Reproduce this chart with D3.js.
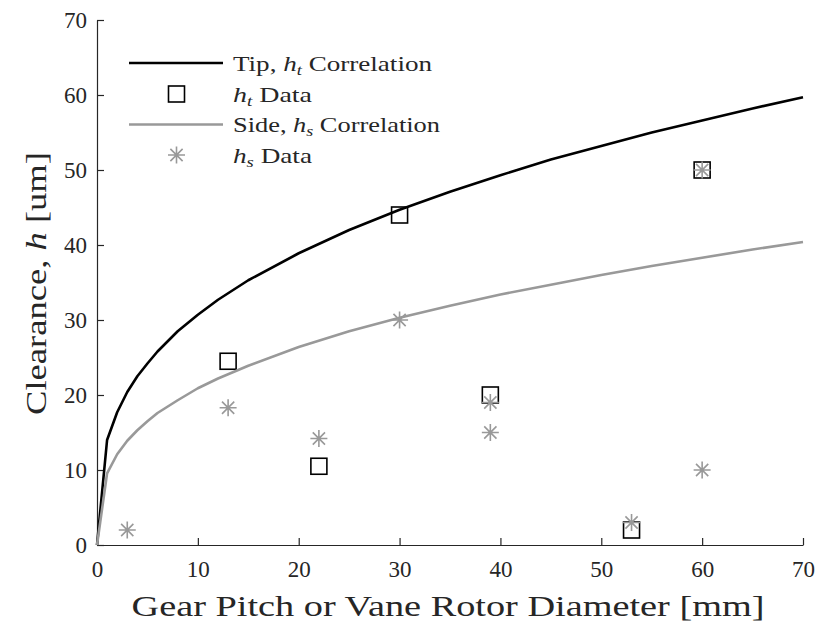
<!DOCTYPE html>
<html>
<head>
<meta charset="utf-8">
<script src="https://cdn.jsdelivr.net/npm/d3@7/dist/d3.min.js"></script>
<style>
  html, body { margin: 0; padding: 0; background: #fff; }
  svg { display: block; }
  text { font-family: "Liberation Serif", "Times New Roman", serif; fill: #262626; }
</style>
</head>
<body>
<svg id="chart" width="817" height="629"></svg>
<script>
// Correlation curves sampled along the pitch / diameter axis [mm]
const curveX    = [0, 1, 2, 3, 4, 5, 6, 8, 10, 12, 15, 20, 25, 30, 35, 40, 45, 50, 55, 60, 65, 70];
const tipCurve  = [0, 14.0, 17.7, 20.4, 22.5, 24.2, 25.8, 28.5, 30.7, 32.7, 35.3, 38.9, 42.0, 44.7, 47.1, 49.3, 51.4, 53.2, 55.0, 56.6, 58.2, 59.7];
const sideCurve = [0, 9.56, 12.1, 13.9, 15.3, 16.5, 17.6, 19.3, 20.9, 22.2, 23.9, 26.4, 28.5, 30.3, 31.9, 33.4, 34.7, 36.0, 37.2, 38.3, 39.4, 40.4];

// Measured clearances [um]
const tipDataX  = [13, 22, 30, 39, 53, 60];
const tipDataY  = [24.5, 10.5, 44, 20, 2, 50];
const sideDataX = [3, 13, 22, 30, 39, 39, 53, 60, 60];
const sideDataY = [2, 18.3, 14.2, 30, 19, 15, 3, 50, 10];

const xTicks = [0, 10, 20, 30, 40, 50, 60, 70];
const yTicks = [0, 10, 20, 30, 40, 50, 60, 70];

const BLACK = "#000000";
const GREY = "#999999";
const AXIS = "#262626";

const svg = d3.select("#chart");
const x = d3.scaleLinear().domain([0, 70]).range([97, 803]);
const y = d3.scaleLinear().domain([0, 70]).range([545, 20]);

// Axes (ticks pointing inward, left and bottom only)
const gx = svg.append("g").attr("transform", `translate(0,${y(0)})`)
  .call(d3.axisBottom(x).tickValues(xTicks).tickFormat(d3.format("d"))
    .tickSizeInner(-7).tickSizeOuter(0).tickPadding(16));
const gy = svg.append("g").attr("transform", `translate(${x(0)},0)`)
  .call(d3.axisLeft(y).tickValues(yTicks).tickFormat(d3.format("d"))
    .tickSizeInner(-7).tickSizeOuter(0).tickPadding(10));
[gx, gy].forEach(g => {
  g.select(".domain").attr("stroke", AXIS).attr("stroke-width", 1.2);
  g.selectAll(".tick line").attr("stroke", AXIS).attr("stroke-width", 1.2);
  g.selectAll(".tick text").attr("font-size", 23)
    .attr("font-family", "Liberation Serif, serif").attr("fill", AXIS);
});

// Axis titles
const xt = svg.append("text")
  .attr("x", 448).attr("y", 616)
  .attr("text-anchor", "middle").attr("font-size", 30)
  .attr("textLength", 633).attr("lengthAdjust", "spacingAndGlyphs")
  .text("Gear Pitch or Vane Rotor Diameter [mm]");

const yt = svg.append("text")
  .attr("transform", "translate(46,283.5) rotate(-90)")
  .attr("text-anchor", "middle").attr("font-size", 30)
  .attr("textLength", 263).attr("lengthAdjust", "spacingAndGlyphs");
yt.append("tspan").text("Clearance, ");
yt.append("tspan").attr("font-style", "italic").text("h");
yt.append("tspan").text(" [um]");

// Curves
const line = d3.line().x(d => x(d[0])).y(d => y(d[1]));
const tipPts = curveX.map((v, i) => [v, tipCurve[i]]);
const sidePts = curveX.map((v, i) => [v, sideCurve[i]]);

svg.append("path").datum(tipPts).attr("d", line)
  .attr("fill", "none").attr("stroke", BLACK).attr("stroke-width", 2.6)
  .attr("stroke-linejoin", "round");

const SQ = 16;
function drawSquares(g, pts) {
  g.selectAll("rect.sq").data(pts).enter().append("rect").attr("class", "sq")
    .attr("x", d => d[0] - SQ / 2).attr("y", d => d[1] - SQ / 2)
    .attr("width", SQ).attr("height", SQ)
    .attr("fill", "none").attr("stroke", BLACK).attr("stroke-width", 1.6);
}
drawSquares(svg.append("g"), tipDataX.map((v, i) => [x(v), y(tipDataY[i])]));

svg.append("path").datum(sidePts).attr("d", line)
  .attr("fill", "none").attr("stroke", GREY).attr("stroke-width", 2.6)
  .attr("stroke-linejoin", "round");

// Asterisk markers
const R = 8.5, RD = R * 0.72;
function starPath(cx, cy) {
  return `M${cx - R},${cy}L${cx + R},${cy}M${cx},${cy - R}L${cx},${cy + R}` +
    `M${cx - RD},${cy - RD}L${cx + RD},${cy + RD}M${cx - RD},${cy + RD}L${cx + RD},${cy - RD}`;
}
function drawStars(g, pts) {
  g.selectAll("path.st").data(pts).enter().append("path").attr("class", "st")
    .attr("d", d => starPath(d[0], d[1]))
    .attr("fill", "none").attr("stroke", GREY).attr("stroke-width", 1.6);
}
drawStars(svg.append("g"), sideDataX.map((v, i) => [x(v), y(sideDataY[i])]));

// Legend
const lg = svg.append("g");
const rowY = [63, 94, 124.5, 155];
const textX = 233;
lg.append("line").attr("x1", 129).attr("x2", 223).attr("y1", rowY[0]).attr("y2", rowY[0])
  .attr("stroke", BLACK).attr("stroke-width", 2.6);
drawSquares(lg.append("g"), [[176.5, rowY[1]]]);
lg.append("line").attr("x1", 129).attr("x2", 223).attr("y1", rowY[2]).attr("y2", rowY[2])
  .attr("stroke", GREY).attr("stroke-width", 2.6);
drawStars(lg.append("g"), [[176.5, rowY[3]]]);

function legendText(yy, pre, sub, post, len) {
  const t = lg.append("text").attr("x", textX).attr("y", yy + 7.5)
    .attr("font-size", 22).attr("fill", "#000")
    .attr("textLength", len).attr("lengthAdjust", "spacingAndGlyphs");
  if (pre) t.append("tspan").text(pre);
  t.append("tspan").attr("font-style", "italic").text("h");
  t.append("tspan").attr("font-style", "italic").attr("font-size", 15).attr("dy", 4).text(sub);
  t.append("tspan").attr("dy", -4).text(post);
}
legendText(rowY[0], "Tip, ", "t", " Correlation", 199);
legendText(rowY[1], "", "t", " Data", 79);
legendText(rowY[2], "Side, ", "s", " Correlation", 207);
legendText(rowY[3], "", "s", " Data", 79);
</script>
</body>
</html>
